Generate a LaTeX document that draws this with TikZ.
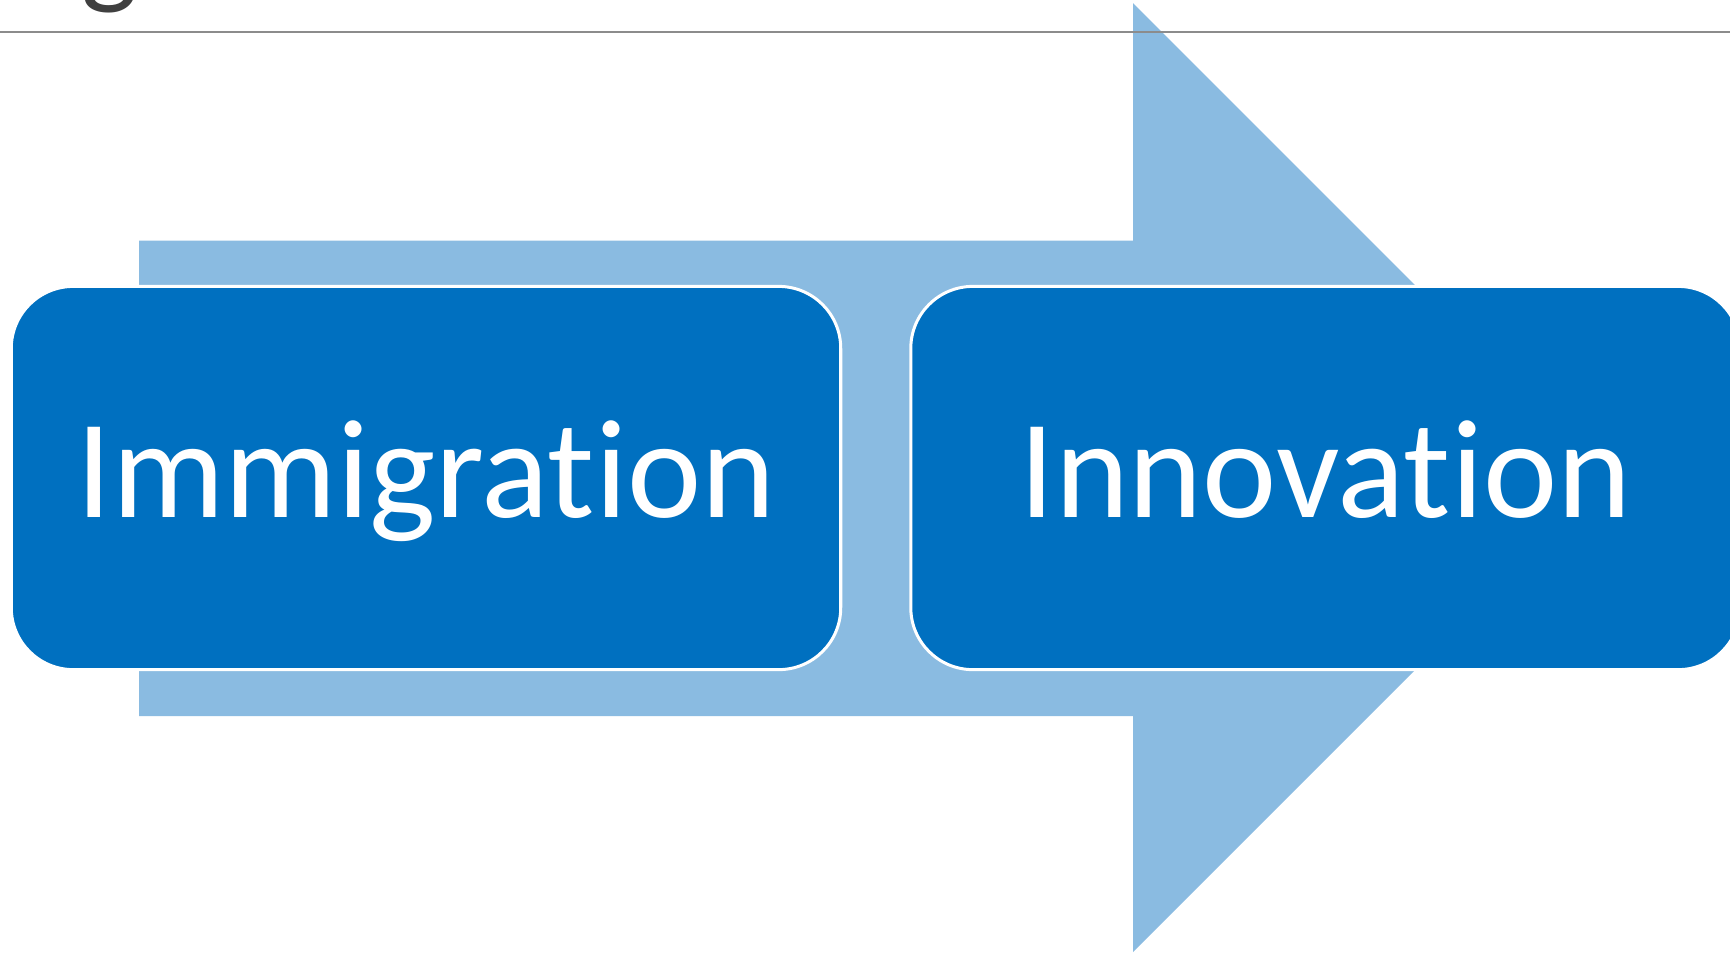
\documentclass[tikz,border=0pt]{standalone}
\usepackage{fontspec}
\setmainfont{Carlito}[Ligatures={TeX,NoCommon}]
\usetikzlibrary{positioning}
\definecolor{boxblue}{HTML}{0070C0}
\definecolor{arrowblue}{HTML}{8ABBE1}
\definecolor{titlegray}{HTML}{404040}
\definecolor{rulegray}{HTML}{8C8C8C}

\begin{document}
\begin{tikzpicture}[x=0.01cm,y=-0.01cm,
  box/.style={draw=white, line width=0.03cm, fill=boxblue, rounded corners=0.62cm,
    minimum width=8.29cm, minimum height=3.83cm, text=white,
    font=\fontsize{40}{48}\selectfont, text height=0.92cm, text depth=0.13cm}]

% 画布范围
\useasboundingbox (0,0) rectangle (1730,953);
\clip (0,0) rectangle (1730,953);

% 定义箭头顶点
\coordinate (S1) at (139,240.5);
\coordinate (H1) at (1133,240.5);
\coordinate (H2) at (1133,3);
\coordinate (T) at (1607.5,477.5);
\coordinate (H3) at (1133,952);
\coordinate (H4) at (1133,716);
\coordinate (S2) at (139,716);

% 绘制背景箭头
\fill[arrowblue] (S1) -- (H1) -- (H2) -- (T) -- (H3) -- (H4) -- (S2) -- cycle;

% 标题残留与分隔线
\node[titlegray, inner sep=0, anchor=south, font=\fontsize{34}{40}\selectfont] (title) at (110,14) {g};
\coordinate (L1) at (0,31.7);
\coordinate (L2) at (1730,31.7);
\draw[rulegray, line width=0.02cm] (L1) -- (L2);

% 两个圆角方框
\node[box] (immig) at (426,478) {Immigration};
\node[box, right=0.67cm of immig] (innov) {Innovation};

\end{tikzpicture}
\end{document}
